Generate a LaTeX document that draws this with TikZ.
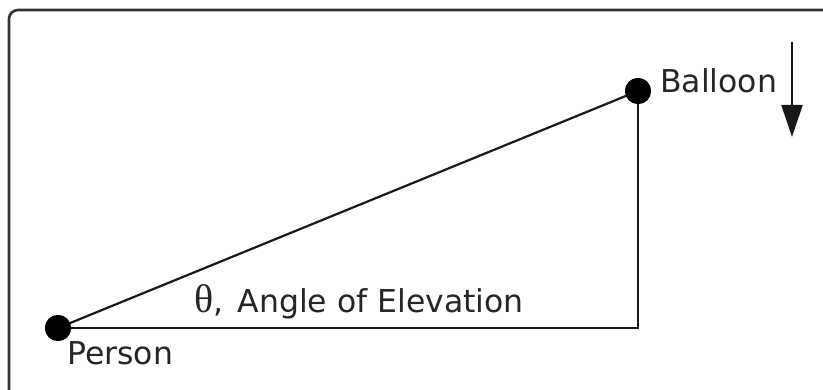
\documentclass[tikz,border=0pt]{standalone}
\usepackage{fontspec}
\setmainfont{DejaVu Sans}
\newfontfamily\thetafont{Liberation Serif}
\usetikzlibrary{arrows.meta}
\begin{document}
\begin{tikzpicture}[x=1pt,y=-1pt,
  frame/.style={draw=black!80,line width=2.6pt,rounded corners=9pt},
  seg/.style={draw=black!90,line width=2.2pt},
  dot/.style={circle,fill=black,inner sep=0pt,minimum size=26pt},
  lbl/.style={font=\fontsize{31.5}{36}\selectfont,inner sep=0pt,text=black!85}
]
\useasboundingbox (0,0) rectangle (823,390);
\fill[white] (0,0) rectangle (823,390);
\draw[frame] (9,395) -- (9,10) -- (830,10);
\coordinate (C) at (638,328);
\node[dot] (P) at (58,328) {};
\node[dot] (B) at (638,91) {};
\draw[seg] (P.center) -- (B.center);
\draw[seg] (P.center) -- (C) -- (B.center);
\node[dot] at (58,328) {};
\node[dot] at (638,91) {};
\node[lbl,anchor=base west] (bl) at (660,93) {Balloon};
\node[lbl,anchor=base west] (pl) at (67,365) {Person};
\node[lbl,anchor=base west] (al) at (194,313) {{\thetafont\fontsize{40}{40}\selectfont θ},\hspace{0.45em}Angle of Elevation};
\coordinate (a1) at (792,42);
\coordinate (a2) at (792,137);
\draw[seg,-{Triangle[length=32pt,width=21pt]}] (a1) -- (a2);
\end{tikzpicture}
\end{document}
